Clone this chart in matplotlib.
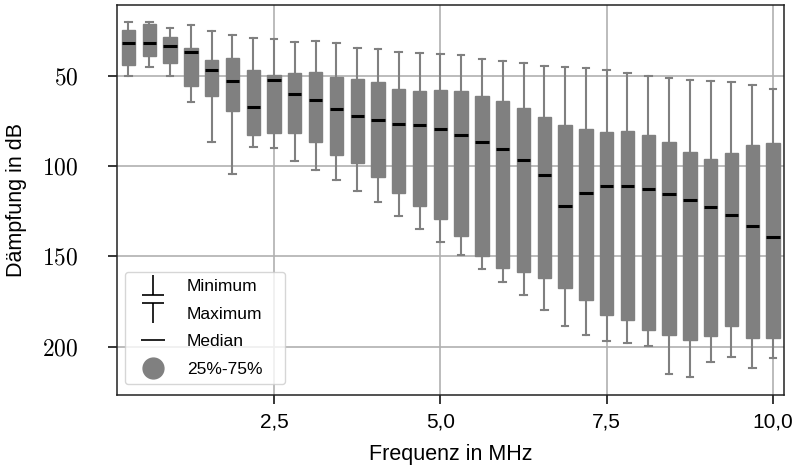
import numpy as np
import matplotlib
matplotlib.use('Agg')
import matplotlib.pyplot as plt
from matplotlib.lines import Line2D
from matplotlib.path import Path
from matplotlib.ticker import FuncFormatter

plt.rcParams['font.family'] = ['Liberation Sans', 'DejaVu Sans']
plt.rcParams['mathtext.fontset'] = 'cm'

BOX_COLOR = '#808080'

# frequency of each measurement block in MHz
freqs = [0.3125, 0.625, 0.9375, 1.25, 1.5625, 1.875, 2.1875, 2.5,
         2.8125, 3.125, 3.4375, 3.75, 4.0625, 4.375, 4.6875, 5.0,
         5.3125, 5.625, 5.9375, 6.25, 6.5625, 6.875, 7.1875, 7.5,
         7.8125, 8.125, 8.4375, 8.75, 9.0625, 9.375, 9.6875, 10.0]

# attenuation statistics in dB
att_min = [20.0, 20.0, 23.1, 21.7, 24.8, 27.0, 28.7, 29.6,
           30.9, 30.4, 31.5, 34.3, 35.2, 36.5, 37.2, 37.8,
           38.1, 40.6, 41.9, 43.0, 44.3, 45.0, 45.4, 46.9,
           48.5, 49.8, 51.1, 52.0, 52.6, 53.5, 55.2, 56.9]
att_q25 = [24.3, 21.3, 28.3, 34.3, 41.1, 40.2, 46.9, 49.6,
           48.1, 47.8, 50.4, 51.9, 53.5, 57.2, 58.3, 57.6,
           58.5, 60.9, 63.7, 67.6, 72.6, 77.0, 79.6, 80.9,
           80.4, 82.6, 86.7, 92.2, 96.1, 92.4, 88.0, 87.2]
att_median = [31.7, 31.5, 33.1, 36.5, 46.7, 52.6, 67.0, 52.0,
              59.8, 63.3, 68.0, 72.2, 74.6, 76.3, 77.0, 79.1,
              82.4, 86.3, 90.6, 96.5, 105.0, 122.0, 114.6, 111.1,
              111.1, 112.8, 115.2, 118.5, 122.4, 127.2, 133.0, 139.4]
att_q75 = [43.7, 38.7, 43.0, 55.4, 61.3, 69.6, 82.4, 81.3,
           81.7, 86.7, 93.7, 98.3, 106.1, 114.6, 121.9, 129.4,
           138.7, 149.5, 156.3, 158.5, 162.0, 167.4, 174.1, 182.2,
           185.0, 190.6, 193.4, 196.5, 194.3, 188.7, 195.0, 195.4]
att_max = [49.8, 44.8, 49.8, 64.4, 86.3, 104.1, 89.1, 89.8,
           97.2, 101.9, 107.4, 113.9, 120.0, 127.8, 135.0, 142.0,
           149.1, 156.9, 164.1, 171.5, 179.5, 188.3, 193.4, 196.7,
           198.2, 199.5, 215.4, 216.9, 208.7, 205.6, 211.7, 206.1]

x_ticks = [2.5, 5.0, 7.5, 10.0]
y_ticks = [50, 100, 150, 200]

stats = []
for lo, q1, med, q3, hi in zip(att_min, att_q25, att_median, att_q75, att_max):
    stats.append({'whislo': lo, 'q1': q1, 'med': med, 'q3': q3, 'whishi': hi})

fig = plt.figure(figsize=(7.97, 4.71), dpi=100)
ax = fig.add_axes([0.1468, 0.1614, 0.8369, 0.828])

ax.bxp(stats, positions=freqs, widths=0.2, capwidths=0.1,
       showfliers=False, patch_artist=True, manage_ticks=False,
       boxprops=dict(facecolor=BOX_COLOR, edgecolor=BOX_COLOR, linewidth=1.0),
       whiskerprops=dict(color=BOX_COLOR, linewidth=1.5),
       capprops=dict(color=BOX_COLOR, linewidth=1.5),
       medianprops=dict(color='black', linewidth=2.2, solid_capstyle='butt'),
       zorder=3)

ax.set_xlim(0.14, 10.165)
ax.set_ylim(226.8, 10.6)
ax.set_xticks(x_ticks)
ax.set_yticks(y_ticks)
ax.xaxis.set_major_formatter(FuncFormatter(lambda v, p: f'{v:.1f}'.replace('.', ',')))
ax.yaxis.set_major_formatter(FuncFormatter(lambda v, p: f'${v:g}$'))

ax.grid(True, color='#b0b0b0', linewidth=1.2, zorder=0)
ax.set_axisbelow(True)
for s in ax.spines.values():
    s.set_linewidth(1.1)
    s.set_color('#222222')

ax.tick_params(axis='x', length=6.5, width=1.1, pad=6, labelsize=15)
ax.tick_params(axis='y', length=6.5, width=1.1, pad=21, labelsize=17)

ax.set_xlabel('Frequenz in MHz', fontsize=15.5)
ax.set_ylabel('Dämpfung in dB', fontsize=15.5)
ax.xaxis.set_label_coords(0.5, -0.125)
ax.yaxis.set_label_coords(-0.135, 0.5)

# whisker-end symbols for the legend
min_marker = Path([(0, -1), (0, 1), (-1.1, -1), (1.1, -1)],
                  [Path.MOVETO, Path.LINETO, Path.MOVETO, Path.LINETO])
max_marker = Path([(0, 1), (0, -1), (-1.1, 1), (1.1, 1)],
                  [Path.MOVETO, Path.LINETO, Path.MOVETO, Path.LINETO])

handles = [
    Line2D([], [], linestyle='none', marker=min_marker, markersize=16.5,
           markeredgewidth=1.2, color='black', markerfacecolor='none'),
    Line2D([], [], linestyle='none', marker=max_marker, markersize=16.5,
           markeredgewidth=1.2, color='black', markerfacecolor='none'),
    Line2D([], [], linestyle='none', marker='_', markersize=17,
           markeredgewidth=1.2, color='black'),
    Line2D([], [], linestyle='none', marker='o', markersize=15,
           color=BOX_COLOR),
]
labels = ['Minimum', 'Maximum', 'Median', '25%-75%']
ax.legend(handles, labels, loc='lower left', mode='expand',
          bbox_to_anchor=(0.012, 0.028, 0.24, 0.25), borderaxespad=0,
          fontsize=12.5, labelspacing=0.71, borderpad=0.43,
          handlelength=2.36, handletextpad=0.78)

fig.savefig('out.png', dpi=100)
